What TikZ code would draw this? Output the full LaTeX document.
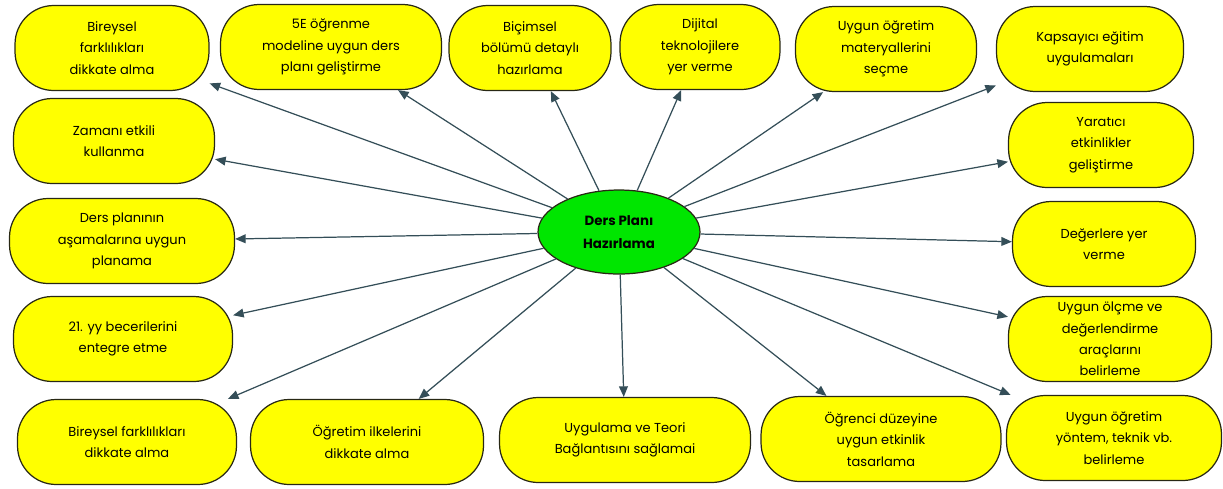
\documentclass[tikz,border=0pt]{standalone}
\usepackage{fontspec}
\setmainfont{Poppins}
\usepackage{tikz}
\usetikzlibrary{shapes.geometric, arrows.meta}
\definecolor{boxfill}{RGB}{255, 255, 0}
\definecolor{boxline}{RGB}{40, 40, 20}
\definecolor{hubfill}{RGB}{0, 230, 0}
\definecolor{linkcol}{RGB}{52, 78, 88}
\tikzset{
    base/.style={draw=boxline, line width=0.7pt, align=center, font=\fontsize{7.4}{12.2}\selectfont},
    topic/.style={base, rectangle, fill=boxfill, rounded corners=22pt, minimum height=1.7cm, inner sep=2pt},
    hub/.style={base, ellipse, fill=hubfill, minimum width=3.24cm, minimum height=1.68cm, inner sep=0pt, font=\fontsize{7.6}{13}\selectfont\bfseries},
    link/.style={-{Triangle[length=6pt, width=5pt]}, line width=0.7pt, draw=linkcol}
}

\begin{document}
\begin{tikzpicture}[x=0.02cm, y=-0.02cm]
\useasboundingbox (0,0) rectangle (1223,488);

% Center
\node[hub] (plan) at (619,232) {Ders Planı\\Hazırlama};

% Top row
\node[topic, minimum width=3.88cm] (bireysel) at (112,48) {Bireysel\\farklılıkları\\dikkate alma};
\node[topic, minimum width=4.42cm] (model) at (331,47) {5E öğrenme\\modeline uygun ders\\planı geliştirme};
\node[topic, minimum width=3.24cm] (bicimsel) at (530,48) {Biçimsel\\bölümü detaylı\\hazırlama};
\node[topic, minimum width=3.2cm] (dijital) at (700,47) {Dijital\\teknolojilere\\yer verme};
\node[topic, minimum width=3.62cm] (materyal) at (886,49) {Uygun öğretim\\materyallerini\\seçme};
\node[topic, minimum width=3.74cm] (kapsayici) at (1090,49) {Kapsayıcı eğitim\\uygulamaları};

% Left column
\node[topic, minimum width=4.02cm] (zaman) at (114,141) {Zamanı etkili\\kullanma};
\node[topic, minimum width=4.5cm] (asama) at (122,241) {Ders planının\\aşamalarına uygun\\planama};
\node[topic, minimum width=4.38cm] (beceri) at (123,339) {21. yy becerilerini\\entegre etme};

% Right column
\node[topic, minimum width=3.7cm] (yaratici) at (1101,145) {Yaratıcı\\etkinlikler\\geliştirme};
\node[topic, minimum width=3.66cm] (deger) at (1104,244) {Değerlere yer\\verme};
\node[topic, minimum width=4.06cm] (olcme) at (1110,339) {Uygun ölçme ve\\değerlendirme\\araçlarını\\belirleme};

% Bottom row
\node[topic, minimum width=4.38cm] (fark) at (127,442) {Bireysel farklılıkları\\dikkate alma};
\node[topic, minimum width=4.66cm] (ilke) at (367,442) {Öğretim ilkelerini\\dikkate alma};
\node[topic, minimum width=5.02cm] (teori) at (625,440) {Uygulama ve Teori\\Bağlantısını sağlamai};
\node[topic, minimum width=4.8cm] (duzey) at (881,439) {Öğrenci düzeyine\\uygun etkinlik\\tasarlama};
\node[topic, minimum width=4.3cm] (yontem) at (1114,438) {Uygun öğretim\\yöntem, teknik vb.\\belirleme};

% Links
\foreach \t in {bireysel, model, bicimsel, dijital, materyal, kapsayici,
                zaman, asama, beceri, yaratici, deger, olcme,
                fark, ilke, teori, duzey, yontem}
    \draw[link] (plan) -- (\t);

\end{tikzpicture}
\end{document}
